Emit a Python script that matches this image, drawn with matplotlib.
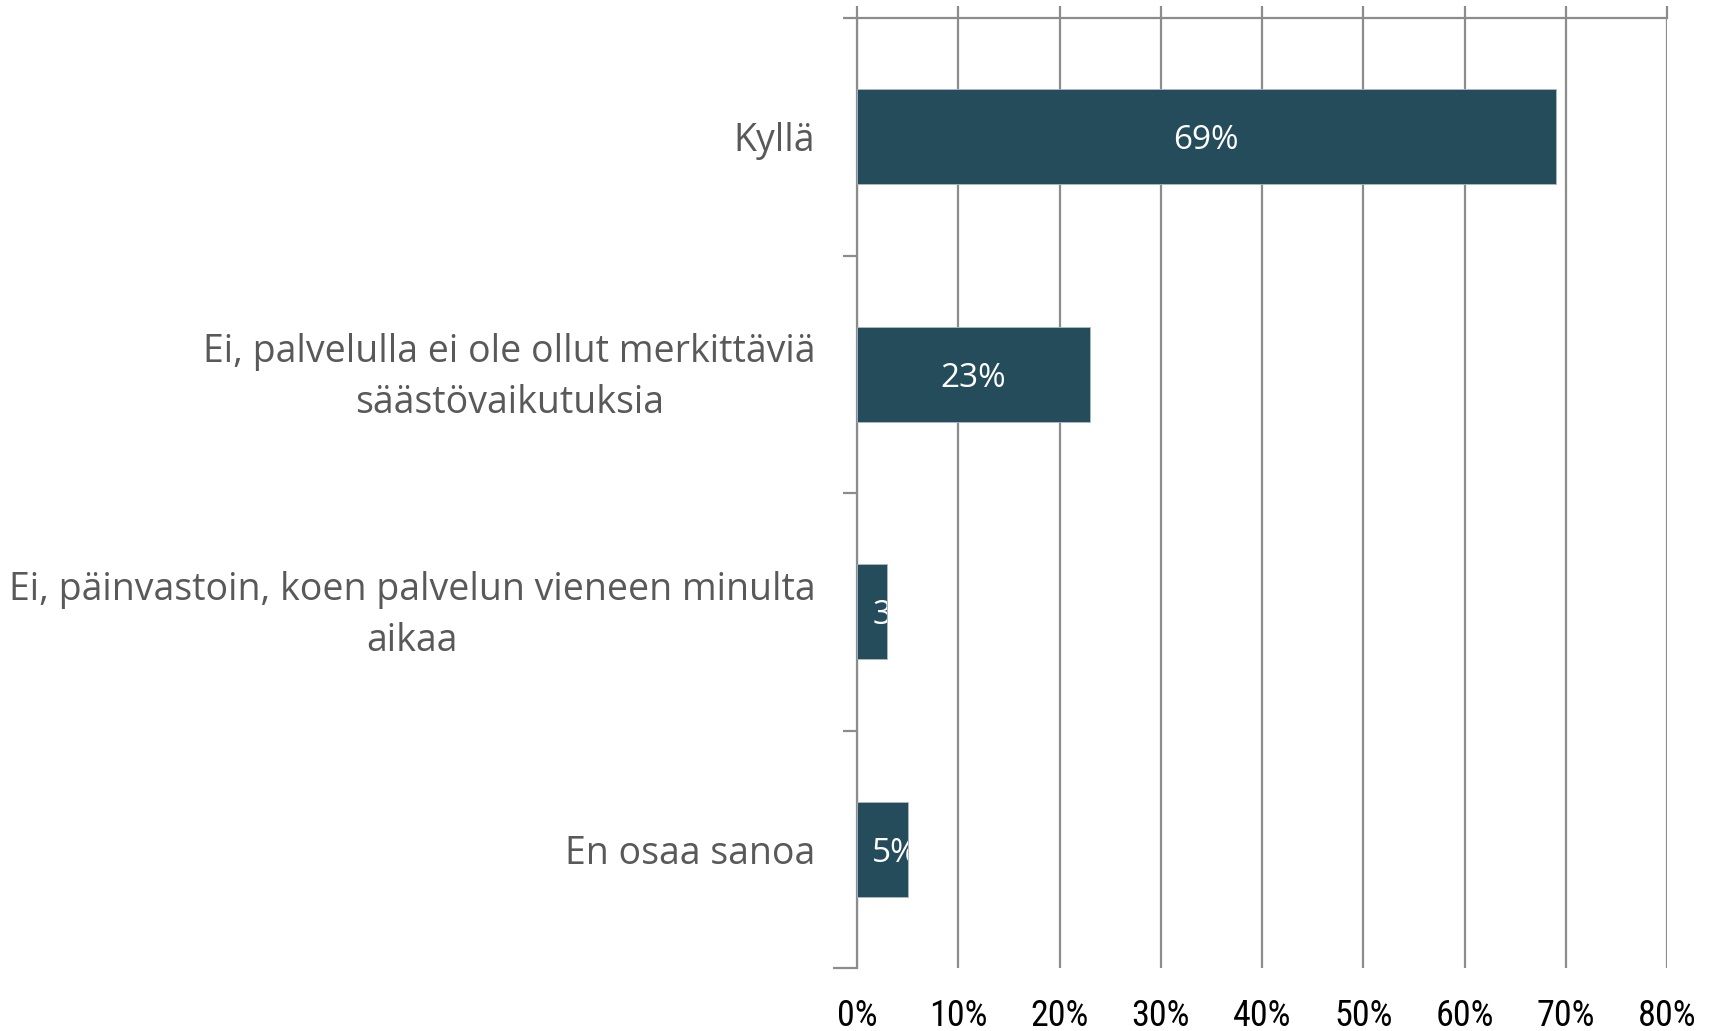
import matplotlib
matplotlib.use("Agg")
import matplotlib.pyplot as plt
import numpy as np

categories = [
    "Kyllä",
    "Ei, palvelulla ei ole ollut merkittäviä\nsäästövaikutuksia",
    "Ei, päinvastoin, koen palvelun vieneen minulta\naikaa",
    "En osaa sanoa",
]
values = [0.69, 0.23, 0.03, 0.05]
labels = ["69%", "23%", "3%", "5%"]
xticks = [0.0, 0.1, 0.2, 0.3, 0.4, 0.5, 0.6, 0.7, 0.8]
xticklabels = ["0%", "10%", "20%", "30%", "40%", "50%", "60%", "70%", "80%"]

bar_color = "#244C5A"
grid_color = "#8C8C8C"
text_gray = "#595959"
narrow = ["Roboto Condensed", "Liberation Sans Narrow", "DejaVu Sans"]
sans = ["Open Sans", "DejaVu Sans"]

fig = plt.figure(figsize=(17.14, 10.31), dpi=100)
ax = fig.add_axes([0.5, 0.0611, 0.4726, 0.9214])

y = np.arange(len(categories))
bars = ax.barh(y, values, height=0.4, color=bar_color, edgecolor="#A9BCC2",
               linewidth=0.6, zorder=3)

ax.set_xlim(0, 0.8)
ax.set_ylim(3.5, -0.5)

# vertical gridlines
ax.set_xticks(xticks)
ax.set_xticklabels(xticklabels, family=narrow, fontsize=26, color="black")
ax.grid(axis="x", color=grid_color, linewidth=1.6, zorder=0)
ax.tick_params(axis="x", which="major", top=True, bottom=False, labeltop=False,
               labelbottom=True, direction="out", length=8.5, width=1.6,
               color=grid_color, pad=13)

# category labels drawn by hand so the two-line ones sit centred on the bar
ax.set_yticks(y)
ax.set_yticklabels([])
ax.tick_params(axis="y", which="major", length=0)
for yi, cat in zip(y, categories):
    dy = 5.5 if "\n" in cat else 0
    ax.annotate(cat, xy=(0, yi), xycoords=ax.get_yaxis_transform(),
                xytext=(-30, dy), textcoords="offset points",
                ha="right", va="center_baseline", multialignment="center",
                linespacing=1.45, family=sans, fontsize=27, color=text_gray)

# boundary ticks between categories
ax.set_yticks(np.arange(-0.5, len(categories), 1.0), minor=True)
ax.tick_params(axis="y", which="minor", direction="out", length=10, width=1.6,
               color=grid_color)
ax.yaxis.get_minor_ticks()[-1].tick1line.set_markersize(17)

for side in ["right", "bottom"]:
    ax.spines[side].set_visible(False)
for side in ["top", "left"]:
    ax.spines[side].set_color(grid_color)
    ax.spines[side].set_linewidth(1.6)

# value labels, clipped to the bar like the original
for bar, v, lab in zip(bars, values, labels):
    cy = bar.get_y() + bar.get_height() / 2
    if v >= 0.1:
        t = ax.text(v / 2, cy, lab, ha="center", va="center_baseline",
                    color="white", fontsize=24, family=sans, zorder=4)
    else:
        t = ax.annotate(lab, (0, cy), xytext=(11, 0), textcoords="offset points",
                        ha="left", va="center_baseline", color="white",
                        fontsize=24, family=sans, zorder=4)
    t.set_clip_path(bar)

fig.savefig("out.png", dpi=100)
